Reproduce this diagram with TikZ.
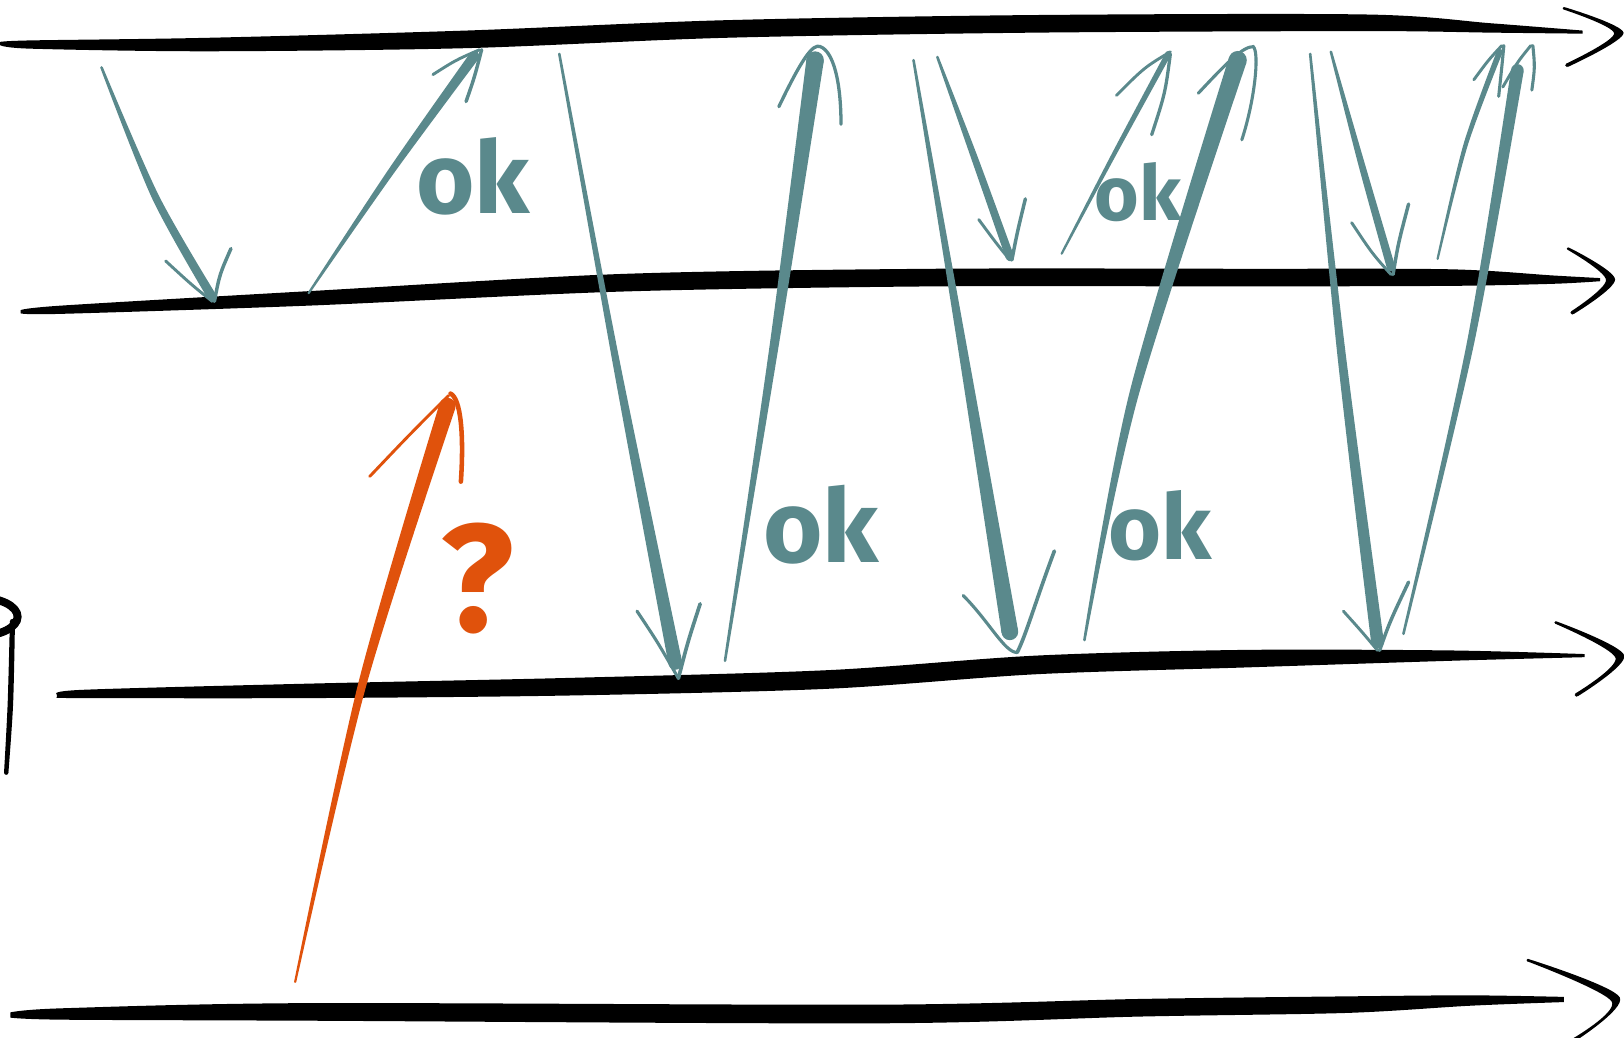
\documentclass[tikz,border=0pt]{standalone}
\usepackage{fontspec}
\newfontfamily\okfont{Fira Sans}
\usetikzlibrary{calc}
\definecolor{tealc}{RGB}{90,137,140}
\definecolor{orangec}{RGB}{224,82,12}
% tapered stroke: colour, start, middle, end, half-widths at start, middle, end
\newcommand{\tstroke}[7]{%
  \coordinate (tsA) at (#2); \coordinate (tsM) at (#3); \coordinate (tsB) at (#4);
  \coordinate (tsT) at ($(tsM)+(tsB)-(tsA)$);
  \fill[#1] plot[smooth] coordinates {($(tsA)!#5!90:(tsM)$) ($(tsM)!#6!90:(tsT)$) ($(tsB)!#7!-90:(tsM)$)}
     -- plot[smooth] coordinates {($(tsB)!#7!90:(tsM)$) ($(tsM)!#6!-90:(tsT)$) ($(tsA)!#5!-90:(tsM)$)} -- cycle;
  \fill[#1] (tsA) circle[radius=#5] (tsB) circle[radius=#7];}
\begin{document}
\begin{tikzpicture}[x=0.02cm,y=-0.02cm,
  barb/.style={draw=tealc, line width=#1, line cap=round},
  barb/.default=1.7pt,
  obarb/.style={draw=orangec, line width=#1, line cap=round},
  obarb/.default=1.7pt,
  lbl/.style={text=tealc, anchor=base, inner sep=0pt}]
\useasboundingbox (0,0) rectangle (1568,1002);
\fill[white] (0,0) rectangle (1568,1002);

% ---------- timelines ----------
\fill[black] plot[smooth] coordinates {(0,40.5) (30,39) (200,36.5) (450,29.5) (700,19.5) (1000,14.5) (1320,14) (1440,22.5) (1528,29.5)}
  -- plot[smooth] coordinates {(1528,32.5) (1440,31.5) (1320,30) (1000,31.5) (700,36.5) (450,46.5) (200,49.5) (30,47) (0,43.5)} -- cycle;
\tstroke{black}{1510,8}{1563,32}{1513,63}{0.7pt}{2.6pt}{1pt}

\fill[black] plot[smooth] coordinates {(20,299.5) (60,295) (300,281) (600,264.5) (900,259.5) (1200,259.5) (1400,260) (1500,266) (1545,268.5)}
  -- plot[smooth] coordinates {(1545,271.5) (1500,274) (1400,276) (1200,276.5) (900,276.5) (600,281.5) (300,295) (60,303) (20,302.5)} -- cycle;
\tstroke{black}{1514,240}{1555,270}{1518,302}{0.7pt}{2.5pt}{1pt}

\fill[black] plot[smooth] coordinates {(55,670.5) (80,666) (300,660) (550,654.5) (800,647) (1000,633) (1200,627.5) (1400,628) (1530,631.5)}
  -- plot[smooth] coordinates {(1530,634.5) (1400,638) (1200,644.5) (1000,651) (800,665) (550,671.5) (300,674) (80,674) (55,673.5)} -- cycle;
\tstroke{black}{1502,601}{1564,634}{1522,671}{0.7pt}{2.5pt}{1pt}

\fill[black] plot[smooth] coordinates {(10,977.5) (60,973.5) (300,968.5) (850,970) (1100,964.5) (1300,962) (1420,961) (1510,962.5)}
  -- plot[smooth] coordinates {(1510,967.5) (1420,971) (1300,978) (1100,981.5) (850,988) (300,985.5) (60,984.5) (10,982.5)} -- cycle;
\tstroke{black}{1475,927}{1560,965}{1518,1005}{0.7pt}{2.5pt}{1pt}

% ---------- cut-off cylinder at the left ----------
\draw[line width=4.4pt] (-20,595.5) ellipse [x radius=0.74cm, y radius=0.37cm];
\tstroke{black}{12,600}{10,680}{6,746}{1.4pt}{1.5pt}{1.2pt}

% ---------- labels ----------
\node[lbl, font=\okfont\bfseries\fontsize{55}{55}\selectfont] (ok1) at (457,206) {ok};
\node[lbl, font=\okfont\bfseries\fontsize{56}{56}\selectfont] (ok2) at (793,543) {ok};
\node[lbl, font=\okfont\bfseries\fontsize{42}{42}\selectfont] (ok3) at (1099,213) {ok};
\node[lbl, font=\okfont\bfseries\fontsize{50}{50}\selectfont] (ok4) at (1120,540) {ok};
\node[lbl, text=orangec, font=\okfont\bfseries\fontsize{84}{84}\selectfont] (q) at (461,610) {?};

% ---------- teal messages ----------
% A
\tstroke{tealc}{98,65}{150,190}{205,287}{0.7pt}{2pt}{2.5pt}
\draw[barb=1.6pt] (160,252) .. controls (185,275) .. (205,291);
\draw[barb=1.9pt] (223,240) .. controls (212,265) .. (207,291);
% B
\tstroke{tealc}{298,283}{378,165}{458,54}{0.6pt}{1.8pt}{2.8pt}
\draw[barb=1.6pt] (418,72) .. controls (440,58) .. (463,48);
\draw[barb=1.9pt] (450,98) .. controls (458,75) .. (465,48);
% C
\tstroke{tealc}{540,52}{595,350}{652,640}{0.7pt}{2pt}{3.8pt}
\draw[barb=1.7pt] (615,590) .. controls (635,620) .. (655,655);
\draw[barb=2pt] (676,583) .. controls (664,620) .. (655,655);
% D
\tstroke{tealc}{700,638}{748,330}{787,58}{0.7pt}{2.5pt}{4.8pt}
\draw[barb=1.8pt] (752,103) .. controls (775,55) and (785,42) .. (792,45) .. controls (805,50) and (812,80) .. (812,120);
% E
\tstroke{tealc}{882,58}{930,340}{975,610}{0.7pt}{2.5pt}{4.6pt}
\draw[barb=1.7pt] (930,575) .. controls (955,600) and (970,630) .. (982,630);
\draw[barb=2pt] (1018,532) .. controls (1000,580) and (990,615) .. (982,630);
% F
\tstroke{tealc}{905,55}{940,150}{975,248}{0.7pt}{1.8pt}{2.3pt}
\draw[barb=1.6pt] (945,212) .. controls (962,235) .. (975,251);
\draw[barb=1.9pt] (990,192) .. controls (982,225) .. (977,251);
% G
\tstroke{tealc}{1025,245}{1075,150}{1128,52}{0.6pt}{1.2pt}{1.6pt}
\draw[barb=1.6pt] (1078,92) .. controls (1105,65) .. (1130,50);
\draw[barb=1.8pt] (1112,130) .. controls (1125,90) .. (1130,52);
% H
\tstroke{tealc}{1047,618}{1095,380}{1195,58}{0.7pt}{2.6pt}{5pt}
\draw[barb=1.7pt] (1157,90) .. controls (1185,60) and (1200,45) .. (1210,45) .. controls (1216,50) and (1212,95) .. (1199,135);
% I
\tstroke{tealc}{1265,52}{1295,340}{1330,620}{0.7pt}{2.3pt}{3.5pt}
\draw[barb=1.6pt] (1297,590) .. controls (1315,610) .. (1330,628);
\draw[barb=1.9pt] (1360,562) .. controls (1342,600) .. (1332,628);
% J
\tstroke{tealc}{1285,50}{1315,160}{1343,258}{0.7pt}{1.8pt}{2.3pt}
\draw[barb=1.6pt] (1305,215) .. controls (1325,245) .. (1343,265);
\draw[barb=1.9pt] (1360,197) .. controls (1350,235) .. (1345,265);
% K
\tstroke{tealc}{1388,250}{1415,140}{1448,50}{0.6pt}{1.2pt}{1.6pt}
\draw[barb=1.6pt] (1423,77) .. controls (1437,58) .. (1450,44);
\draw[barb=1.7pt] (1447,93) .. controls (1450,65) .. (1452,44);
% L
\tstroke{tealc}{1355,612}{1420,330}{1465,68}{0.7pt}{2pt}{3.5pt}
\draw[barb=1.6pt] (1451,84) .. controls (1465,60) .. (1478,44);
\draw[barb=1.7pt] (1479,87) .. controls (1482,65) .. (1480,44);

% ---------- orange message ----------
\tstroke{orangec}{285,948}{350,660}{432,392}{0.6pt}{2.3pt}{4.5pt}
\draw[obarb=1.6pt] (357,460) .. controls (395,420) .. (433,382);
\draw[obarb=2.5pt] (445,465) .. controls (448,420) and (445,385) .. (435,380);
\end{tikzpicture}
\end{document}
